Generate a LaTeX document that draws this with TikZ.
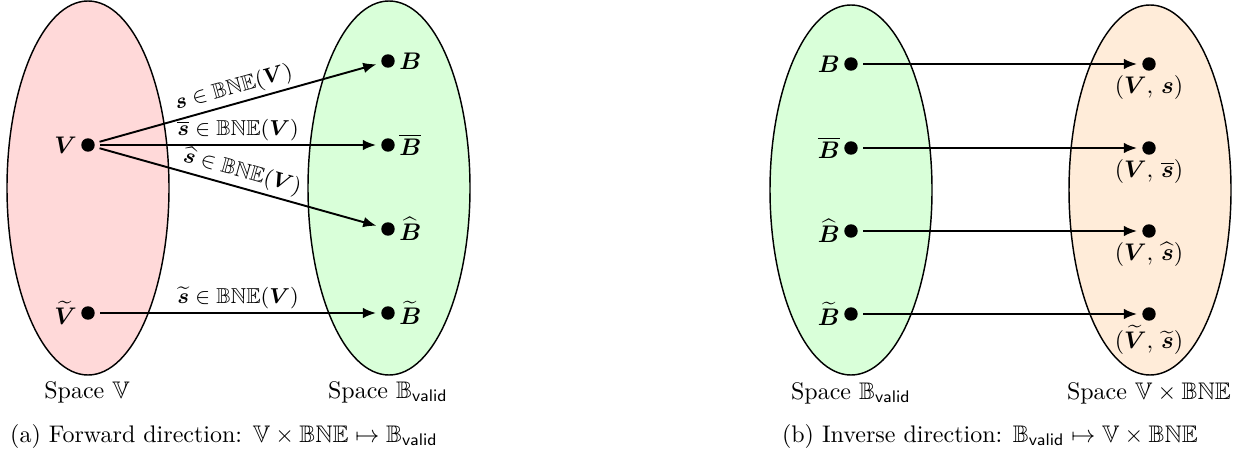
\documentclass[tikz,border=0pt]{standalone}
\usepackage{amsmath}
\usepackage{amssymb}
\usetikzlibrary{arrows.meta, positioning}

\begin{document}
\begin{tikzpicture}[>={Latex[length=5.5pt, width=4.4pt]}, x=0.41667pt, y=-0.41667pt, node distance=0pt,
    dot/.style={circle, fill, inner sep=0pt, minimum size=5.6pt},
    space/.style={draw, semithick},
    map/.style={->, thick, shorten >=2pt, shorten <=2pt},
    lbl/.style={font=\small, inner sep=1.5pt}]
    \useasboundingbox (0,0) rectangle (1242,454);

    % (a) forward direction
    \draw[space, fill=red!15] (88,188) ellipse (81 and 187);
    \draw[space, fill=green!15] (389,188) ellipse (81 and 187);

    \node[dot] (v) at (88,145) {};
    \node[dot] (vt) at (88,313) {};
    \node[dot] (b) at (388,61) {};
    \node[dot] (bb) at (388,145) {};
    \node[dot] (bh) at (388,229) {};
    \node[dot] (bt) at (388,313) {};

    \node[left=of v, inner sep=1.5pt] (vl) {$\boldsymbol{V}$};
    \node[left=of vt, inner sep=1.5pt] (vtl) {$\widetilde{\boldsymbol{V}}$};
    \node[right=of b, inner sep=1.5pt] (bl) {$\boldsymbol{B}$};
    \node[right=of bb, inner sep=1.5pt] (bbl) {$\overline{\boldsymbol{B}}$};
    \node[right=of bh, inner sep=1.5pt] (bhl) {$\widehat{\boldsymbol{B}}$};
    \node[right=of bt, inner sep=1.5pt] (btl) {$\widetilde{\boldsymbol{B}}$};

    \path[map]
      (v) edge node[lbl, above, sloped] {$\boldsymbol{s}\in\mathbb{BNE}(\boldsymbol{V})$} (b)
          edge node[lbl, above] {$\overline{\boldsymbol{s}}\in\mathbb{BNE}(\boldsymbol{V})$} (bb)
          edge node[lbl, above, sloped] {$\widehat{\boldsymbol{s}}\in\mathbb{BNE}(\boldsymbol{V})$} (bh)
      (vt) edge node[lbl, above] {$\widetilde{\boldsymbol{s}}\in\mathbb{BNE}(\boldsymbol{V})$} (bt);

    \node (spv) at (87,392) {Space $\mathbb{V}$};
    \node (spb) at (388,392) {Space $\mathbb{B}_{\mathsf{valid}}$};
    \node (capa) at (224,436) {(a) Forward direction: $\mathbb{V}\times\mathbb{BNE}\mapsto\mathbb{B}_{\mathsf{valid}}$};

    % (b) inverse direction
    \draw[space, fill=green!15] (851,190) ellipse (81 and 185);
    \draw[space, fill=orange!15] (1150,190) ellipse (81 and 185);

    \node[dot] (ib) at (851,64) {};
    \node[dot] (ibb) at (851,148) {};
    \node[dot] (ibh) at (851,231) {};
    \node[dot] (ibt) at (851,314) {};
    \node[dot] (vs) at (1149,64) {};
    \node[dot] (vsb) at (1149,148) {};
    \node[dot] (vsh) at (1149,231) {};
    \node[dot] (vst) at (1149,314) {};

    \node[left=of ib, inner sep=1.5pt] (ibl) {$\boldsymbol{B}$};
    \node[left=of ibb, inner sep=1.5pt] (ibbl) {$\overline{\boldsymbol{B}}$};
    \node[left=of ibh, inner sep=1.5pt] (ibhl) {$\widehat{\boldsymbol{B}}$};
    \node[left=of ibt, inner sep=1.5pt] (ibtl) {$\widetilde{\boldsymbol{B}}$};
    \node[below=of vs, inner sep=1.5pt] (vsl) {$(\boldsymbol{V},\,\boldsymbol{s})$};
    \node[below=of vsb, inner sep=1.5pt] (vsbl) {$(\boldsymbol{V},\,\overline{\boldsymbol{s}})$};
    \node[below=of vsh, inner sep=1.5pt] (vshl) {$(\boldsymbol{V},\,\widehat{\boldsymbol{s}})$};
    \node[below=of vst, inner sep=1.5pt] (vstl) {$(\widetilde{\boldsymbol{V}},\,\widetilde{\boldsymbol{s}})$};

    \path[map]
      (ib) edge (vs)
      (ibb) edge (vsb)
      (ibh) edge (vsh)
      (ibt) edge (vst);

    \node (spib) at (851,393) {Space $\mathbb{B}_{\mathsf{valid}}$};
    \node (spvs) at (1149,393) {Space $\mathbb{V}\times\mathbb{BNE}$};
    \node (capb) at (990,436) {(b) Inverse direction: $\mathbb{B}_{\mathsf{valid}}\mapsto\mathbb{V}\times\mathbb{BNE}$};
\end{tikzpicture}
\end{document}
